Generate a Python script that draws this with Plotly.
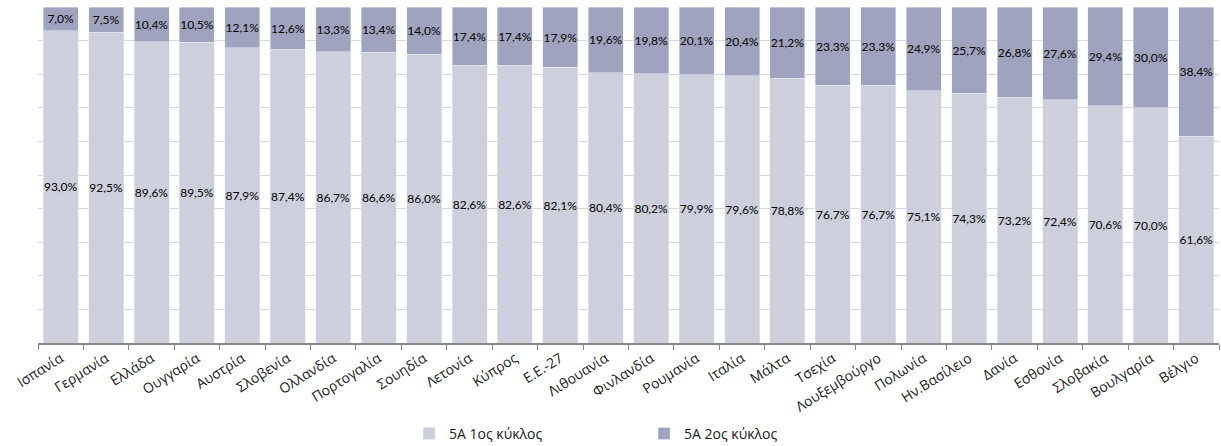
import plotly.graph_objects as go

# Countries, ordered as in the chart
countries = ['Ισπανία', 'Γερμανία', 'Ελλάδα', 'Ουγγαρία', 'Αυστρία', 'Σλοβενία', 'Ολλανδία',
             'Πορτογαλία', 'Σουηδία', 'Λετονία', 'Κύπρος', 'Ε.Ε.-27', 'Λιθουανία', 'Φινλανδία',
             'Ρουμανία', 'Ιταλία', 'Μάλτα', 'Τσεχία', 'Λουξεμβούργο', 'Πολωνία', 'Ην.Βασίλειο',
             'Δανία', 'Εσθονία', 'Σλοβακία', 'Βουλγαρία', 'Βέλγιο']

# Share of 5A, 1st cycle and 2nd cycle (%)
first_cycle = [93.0, 92.5, 89.6, 89.5, 87.9, 87.4, 86.7, 86.6, 86.0, 82.6, 82.6, 82.1, 80.4,
               80.2, 79.9, 79.6, 78.8, 76.7, 76.7, 75.1, 74.3, 73.2, 72.4, 70.6, 70.0, 61.6]
second_cycle = [7.0, 7.5, 10.4, 10.5, 12.1, 12.6, 13.3, 13.4, 14.0, 17.4, 17.4, 17.9, 19.6,
                19.8, 20.1, 20.4, 21.2, 23.3, 23.3, 24.9, 25.7, 26.8, 27.6, 29.4, 30.0, 38.4]


def pct(vals):
    return [f'{v:.1f}%'.replace('.', ',') for v in vals]


label_font = dict(family='Lato', size=12, color='#000000')

fig = go.Figure()
fig.add_trace(go.Bar(x=countries, y=first_cycle, name='5A 1ος κύκλος', marker_color='#CDCFDC',
                     text=pct(first_cycle), textposition='inside', insidetextanchor='middle',
                     textangle=0, constraintext='none', textfont=label_font))
fig.add_trace(go.Bar(x=countries, y=second_cycle, name='5A 2ος κύκλος', marker_color='#A0A3BE',
                     text=pct(second_cycle), textposition='inside', insidetextanchor='middle',
                     textangle=0, constraintext='none', textfont=label_font))

fig.update_layout(
    barmode='stack',
    bargap=0.23,
    width=1221, height=446,
    margin=dict(l=38, r=2, t=7, b=103, autoexpand=False),
    plot_bgcolor='white', paper_bgcolor='white',
    legend=dict(orientation='h', traceorder='normal', xref='container', yref='container',
                x=0.335, xanchor='left', y=0.063, yanchor='top', entrywidth=190,
                font=dict(family='Open Sans', size=14, color='#222222')),
    xaxis=dict(tickangle=-32, ticks='outside', tickson='boundaries', ticklen=5,
               tickcolor='#868686', showline=True, linecolor='#868686', linewidth=2,
               automargin=False,
               tickfont=dict(family='Open Sans', size=14, color='#222222')),
    yaxis=dict(range=[0, 100], dtick=10, showticklabels=False, gridcolor='#D9D9D9',
               gridwidth=1, zeroline=False, automargin=False),
)

fig.write_html('out.html', config=dict(displayModeBar=False),
               post_script="document.body.style.margin='0';")
